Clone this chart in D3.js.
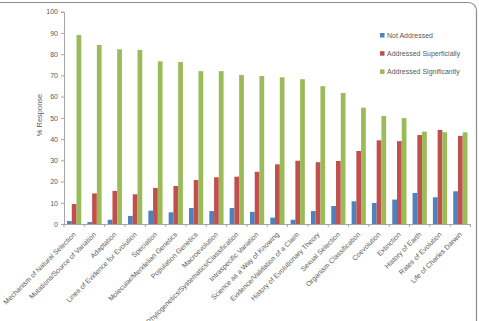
<!DOCTYPE html>
<html>
<head>
<meta charset="utf-8">
<script src="https://cdn.jsdelivr.net/npm/d3@7"></script>
<style>
  body { margin: 0; background: #fff; }
  text { font-family: "Liberation Sans", Arial, sans-serif; fill: #595959; }
</style>
</head>
<body>
<svg id="chart" width="479" height="321"></svg>
<script>
// Categories along the x axis
const topics = [
    "Mechanism of Natural Selection",
    "Mutations/Source of Variation",
    "Adaptation",
    "Lines of Evidence for Evolution",
    "Speciation",
    "Molecular/Mendelian Genetics",
    "Population Genetics",
    "Macroevolution",
    "Phylogenetics/Systematics/Classification",
    "Intraspecific Variation",
    "Science as a Way of Knowing",
    "Evidence/Validation of a Claim",
    "History of Evolutionary Theory",
    "Sexual Selection",
    "Organism Classification",
    "Coevolution",
    "Extinction",
    "History of Earth",
    "Rates of Evolution",
    "Life of Charles Darwin"
];

// Series values (% response)
const notAddressed = [1.4, 0.9, 2.0, 3.8, 6.3, 5.5, 7.5, 6.1, 7.5, 5.7, 3.0, 2.0, 6.1, 8.5, 10.7, 9.9, 11.5, 14.6, 12.6, 15.4];
const superficially = [9.4, 14.4, 15.6, 14.0, 17.0, 17.9, 20.7, 22.0, 22.3, 24.6, 28.1, 29.8, 29.1, 29.7, 34.4, 39.4, 39.0, 41.9, 44.3, 41.5];
const significantly = [89.0, 84.3, 82.3, 82.0, 76.6, 76.3, 72.0, 72.0, 70.2, 69.7, 69.1, 68.2, 64.9, 61.7, 54.8, 50.9, 49.9, 43.5, 43.2, 43.2];

const seriesNames = ["Not Addressed", "Addressed Superficially", "Addressed Significantly"];
const seriesColours = ["#4F81BD", "#C0504D", "#9BBB59"];
const yTicks = [0, 10, 20, 30, 40, 50, 60, 70, 80, 90, 100];

const svg = d3.select("#chart");

// Outer frame (left and bottom fall outside the picture)
svg.append("rect")
    .attr("x", -10).attr("y", 2.5)
    .attr("width", 486.5).attr("height", 340)
    .attr("rx", 8)
    .style("fill", "none")
    .style("stroke", "#8c8c8c")
    .style("stroke-width", 1.2);

// Plot area
const plotLeft = 64, plotRight = 470.5, plotTop = 11.7, plotBottom = 224;

const x = d3.scaleBand()
    .domain(topics)
    .range([plotLeft, plotRight])
    .paddingInner(0.3)
    .paddingOuter(0.15);

const xSub = d3.scaleBand()
    .domain(seriesNames)
    .range([0, x.bandwidth()]);

const y = d3.scaleLinear()
    .domain([0, 100])
    .range([plotBottom, plotTop]);

// Bars
const rows = topics.map((t, i) => ({
    topic: t,
    values: [notAddressed[i], superficially[i], significantly[i]]
}));

const groups = svg.append("g")
    .selectAll("g")
    .data(rows)
    .enter()
    .append("g")
    .attr("transform", (d) => `translate(${x(d.topic)},0)`);

groups.selectAll("rect")
    .data((d) => d.values.map((v, k) => ({ name: seriesNames[k], value: v, k: k })))
    .enter()
    .append("rect")
    .attr("x", (d) => xSub(d.name))
    .attr("width", xSub.bandwidth())
    .attr("y", (d) => y(d.value))
    .attr("height", (d) => y(0) - y(d.value))
    .style("fill", (d) => seriesColours[d.k]);

// Y axis
const yAxis = svg.append("g")
    .attr("transform", `translate(${plotLeft},0)`)
    .call(d3.axisLeft(y).tickValues(yTicks).tickSize(3).tickPadding(3));
yAxis.select(".domain").style("stroke", "#a6a6a6");
yAxis.selectAll(".tick line").style("stroke", "#a6a6a6");
yAxis.selectAll("text")
    .style("font-size", "7px")
    .style("fill", "#595959")
    .style("font-family", "'Liberation Sans', Arial, sans-serif");

// X axis line and tick marks between categories
const xBase = svg.append("g");
xBase.append("line")
    .attr("x1", plotLeft).attr("x2", plotRight)
    .attr("y1", plotBottom + 0.5).attr("y2", plotBottom + 0.5)
    .style("stroke", "#a6a6a6");
xBase.selectAll("line.tk")
    .data(d3.range(topics.length + 1))
    .enter()
    .append("line")
    .classed("tk", true)
    .attr("x1", (i) => plotLeft + i * (plotRight - plotLeft) / topics.length)
    .attr("x2", (i) => plotLeft + i * (plotRight - plotLeft) / topics.length)
    .attr("y1", plotBottom)
    .attr("y2", plotBottom + 3)
    .style("stroke", "#a6a6a6");

// Rotated category labels
svg.append("g")
    .selectAll("text")
    .data(topics)
    .enter()
    .append("text")
    .attr("transform", (d) => `translate(${x(d) + x.bandwidth() / 2 + 2},${plotBottom + 11}) rotate(-45)`)
    .style("text-anchor", "end")
    .style("font-size", "7px")
    .text((d) => d);

// Y axis title
svg.append("text")
    .attr("transform", "translate(42,115) rotate(-90)")
    .style("text-anchor", "middle")
    .style("font-size", "7.5px")
    .text("% Response");

// Legend
const legend = svg.append("g")
    .selectAll("g")
    .data(seriesNames)
    .enter()
    .append("g")
    .attr("transform", (d, i) => `translate(380,${35.5 + i * 18.2})`);
legend.append("rect")
    .attr("x", 0).attr("y", -2.5)
    .attr("width", 4.5).attr("height", 4.5)
    .style("fill", (d, i) => seriesColours[i]);
legend.append("text")
    .attr("x", 7).attr("y", 2.5)
    .style("font-size", "7px")
    .text((d) => d);
</script>
</body>
</html>
